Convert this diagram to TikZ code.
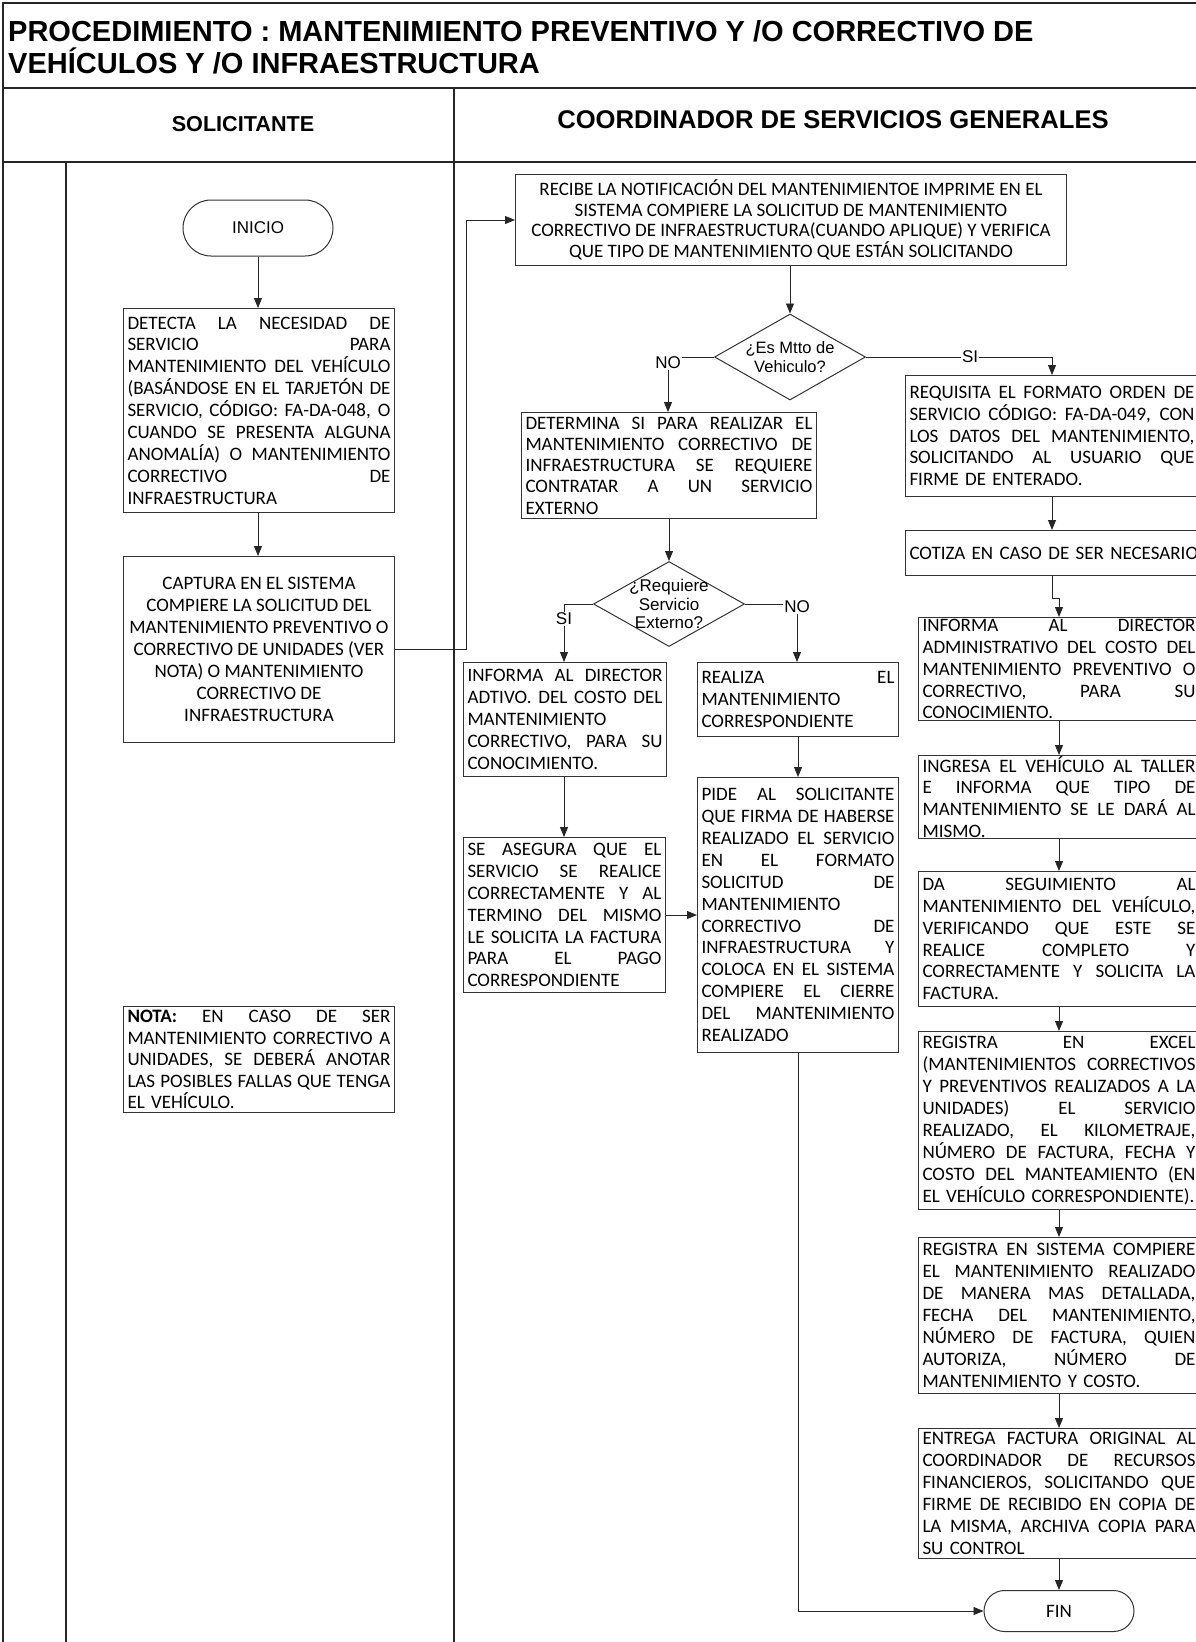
\documentclass[tikz,border=0pt]{standalone}
\usepackage{fontspec}
\setmainfont{Carlito}
\newfontfamily\arialf{Liberation Sans}
\usetikzlibrary{arrows.meta,calc,positioning,shapes.geometric}
% renglon justificado
\newcommand{\jl}[1]{{\spaceskip=0pt\xspaceskip=0pt\makebox[\hsize][s]{#1}}\\}
\tikzset{
	marco/.style={draw=black!85, line width=1.3pt},
	titulo/.style={anchor=north west, inner sep=0pt, align=left,
		font=\arialf\bfseries\fontsize{29}{32}\selectfont},
	carril/.style={inner sep=0pt, font=\arialf\bfseries\fontsize{24}{26}\selectfont},
	caja/.style={draw=black!80, line width=1pt, anchor=north west, inner xsep=4pt,
		inner ysep=0pt, align=left, font=\fontsize{19}{21.9}\selectfont},
	cajac/.style={caja, align=center},
	term/.style={draw=black!80, line width=1pt, minimum width=150pt},
	decision/.style={draw=black!80, line width=1pt, diamond, inner sep=0pt,
		minimum width=151pt, minimum height=86pt},
	dtexto/.style={inner sep=0pt, align=center, font=\arialf\fontsize{16.5}{18.5}\selectfont},
	etiq/.style={inner sep=1pt, font=\arialf\fontsize{17}{17}\selectfont},
	linea/.style={draw=black!85, line width=0.9pt},
	flecha/.style={linea, -{Triangle[length=10pt,width=8pt]}}
}
\begin{document}
\begin{tikzpicture}[x=1pt, y=-1pt]
	\useasboundingbox (0,0) rectangle (1196,1642);
	% marco y carriles
	\draw[marco] (1196,3) -- (3,3) -- (3,1642);
	\draw[marco] (3,88) -- (1196,88);
	\draw[marco] (3,162) -- (1196,162);
	\draw[marco] (454,88) -- (454,1642);
	\draw[marco] (66,162) -- (66,1642);
	\node[titulo] (titulo) at (8,20) {PROCEDIMIENTO : MANTENIMIENTO PREVENTIVO Y /O CORRECTIVO DE\\VEHÍCULOS Y /O INFRAESTRUCTURA};
	\node[carril, font=\arialf\bfseries\fontsize{21.6}{24}\selectfont] (solic) at (243,124) {SOLICITANTE};
	\node[carril, font=\arialf\bfseries\fontsize{25.6}{28}\selectfont] (coord) at (833,120) {COORDINADOR DE SERVICIOS GENERALES};

	% solicitante
	\node[term, minimum height=56pt, rounded corners=28pt, font=\arialf\fontsize{17}{17}\selectfont] (inicio) at (258,228) {INICIO};
	\node[caja, text width=263pt, minimum height=204pt] (detecta) at (123,308) {%
		\jl{DETECTA LA NECESIDAD DE}\jl{SERVICIO PARA}\jl{MANTENIMIENTO DEL VEHÍCULO}%
		\jl{(BASÁNDOSE EN EL TARJETÓN DE}\jl{SERVICIO, CÓDIGO: FA-DA-048, O}%
		\jl{CUANDO SE PRESENTA ALGUNA}\jl{ANOMALÍA) O MANTENIMIENTO}\jl{CORRECTIVO DE}INFRAESTRUCTURA};
	\node[cajac, minimum width=271pt, minimum height=186pt] (captura) at (123,556) {CAPTURA EN EL SISTEMA\\COMPIERE LA SOLICITUD DEL\\MANTENIMIENTO PREVENTIVO O\\CORRECTIVO DE UNIDADES (VER\\NOTA) O MANTENIMIENTO\\CORRECTIVO DE\\INFRAESTRUCTURA};
	\node[caja, text width=263pt, minimum height=106pt, font=\fontsize{19}{21.5}\selectfont] (nota) at (123,1006) {%
		\jl{\textbf{NOTA:} EN CASO DE SER}\jl{MANTENIMIENTO CORRECTIVO A}\jl{UNIDADES, SE DEBERÁ ANOTAR}%
		\jl{LAS POSIBLES FALLAS QUE TENGA}EL VEHÍCULO.};

	% coordinador
	\node[cajac, minimum width=551pt, minimum height=91pt, font=\fontsize{19}{20.5}\selectfont] (recibe) at (515,174) {RECIBE LA NOTIFICACIÓN DEL MANTENIMIENTOE IMPRIME EN EL\\SISTEMA COMPIERE LA SOLICITUD DE MANTENIMIENTO\\CORRECTIVO DE INFRAESTRUCTURA(CUANDO APLIQUE) Y VERIFICA\\QUE TIPO DE MANTENIMIENTO QUE ESTÁN SOLICITANDO};
	\node[decision] (dec1) at (790,357) {};
	\node[dtexto] (dec1t) at (dec1) {¿Es Mtto de\\Vehiculo?};
	\node[caja, text width=287pt, minimum height=106pt, font=\fontsize{19}{21.25}\selectfont] (determina) at (521,412) {%
		\jl{DETERMINA SI PARA REALIZAR EL}\jl{MANTENIMIENTO CORRECTIVO DE}\jl{INFRAESTRUCTURA SE REQUIERE}%
		\jl{CONTRATAR A UN SERVICIO}EXTERNO};
	\node[decision, minimum height=85pt] (dec2) at (669,604) {};
	\node[dtexto, font=\arialf\fontsize{17}{18.5}\selectfont] (dec2t) at (dec2) {¿Requiere\\Servicio\\Externo?};
	\node[caja, text width=195pt, minimum height=114pt] (infadtivo) at (463,662) {%
		\jl{INFORMA AL DIRECTOR}\jl{ADTIVO. DEL COSTO DEL}MANTENIMIENTO\\\jl{CORRECTIVO, PARA SU}CONOCIMIENTO.};
	\node[caja, text width=193pt, minimum height=74pt] (realiza) at (697,662) {%
		\jl{REALIZA EL}MANTENIMIENTO\\CORRESPONDIENTE};
	\node[caja, text width=194pt, minimum height=155pt] (asegura) at (463,837) {%
		\jl{SE ASEGURA QUE EL}\jl{SERVICIO SE REALICE}\jl{CORRECTAMENTE Y AL}\jl{TERMINO DEL MISMO}%
		\jl{LE SOLICITA LA FACTURA}\jl{PARA EL PAGO}CORRESPONDIENTE};
	\node[caja, text width=193pt, minimum height=275pt] (pide) at (697,777) {%
		\jl{PIDE AL SOLICITANTE}\jl{QUE FIRMA DE HABERSE}\jl{REALIZADO EL SERVICIO}\jl{EN EL FORMATO}%
		\jl{SOLICITUD DE}MANTENIMIENTO\\\jl{CORRECTIVO DE}\jl{INFRAESTRUCTURA Y}%
		\jl{COLOCA EN EL SISTEMA}\jl{COMPIERE EL CIERRE}\jl{DEL MANTENIMIENTO}REALIZADO};
	\node[caja, text width=285pt, minimum height=121pt] (requisita) at (905,375) {%
		\jl{REQUISITA EL FORMATO ORDEN DE}\jl{SERVICIO CÓDIGO: FA-DA-049, CON}%
		\jl{LOS DATOS DEL MANTENIMIENTO,}\jl{SOLICITANDO AL USUARIO QUE}FIRME DE ENTERADO.};
	\node[caja, text width=285pt, minimum height=45pt] (cotiza) at (905,530) {\mbox{COTIZA EN CASO DE SER NECESARIO}};
	\node[caja, text width=273pt, minimum height=103pt] (infadmin) at (918,617) {%
		\jl{INFORMA AL DIRECTOR}\jl{ADMINISTRATIVO DEL COSTO DEL}\jl{MANTENIMIENTO PREVENTIVO O}%
		\jl{CORRECTIVO, PARA SU}CONOCIMIENTO.};
	\node[caja, text width=273pt, minimum height=83pt] (ingresa) at (918,755) {%
		\jl{INGRESA EL VEHÍCULO AL TALLER}\jl{E INFORMA QUE TIPO DE}\jl{MANTENIMIENTO SE LE DARÁ AL}MISMO.};
	\node[caja, text width=273pt, minimum height=135pt] (seguimiento) at (918,871) {%
		\jl{DA SEGUIMIENTO AL}\jl{MANTENIMIENTO DEL VEHÍCULO,}\jl{VERIFICANDO QUE ESTE SE}%
		\jl{REALICE COMPLETO Y}\jl{CORRECTAMENTE Y SOLICITA LA}FACTURA.};
	\node[caja, text width=273pt, minimum height=178pt] (excel) at (918,1031) {%
		\jl{REGISTRA EN EXCEL}\jl{(MANTENIMIENTOS CORRECTIVOS}\jl{Y PREVENTIVOS REALIZADOS A LA}%
		\jl{UNIDADES) EL SERVICIO}\jl{REALIZADO, EL KILOMETRAJE,}\jl{NÚMERO DE FACTURA, FECHA Y}%
		\jl{COSTO DEL MANTEAMIENTO (EN}EL VEHÍCULO CORRESPONDIENTE).};
	\node[caja, text width=273pt, minimum height=156pt] (sistema) at (918,1237) {%
		\jl{REGISTRA EN SISTEMA COMPIERE}\jl{EL MANTENIMIENTO REALIZADO}\jl{DE MANERA MAS DETALLADA,}%
		\jl{FECHA DEL MANTENIMIENTO,}\jl{NÚMERO DE FACTURA, QUIEN}\jl{AUTORIZA, NÚMERO DE}%
		MANTENIMIENTO Y COSTO.};
	\node[caja, text width=273pt, minimum height=130pt] (entrega) at (918,1428) {%
		\jl{ENTREGA FACTURA ORIGINAL AL}\jl{COORDINADOR DE RECURSOS}\jl{FINANCIEROS, SOLICITANDO QUE}%
		\jl{FIRME DE RECIBIDO EN COPIA DE}\jl{LA MISMA, ARCHIVA COPIA PARA}SU CONTROL};
	\node[term, minimum height=41pt, rounded corners=20.5pt, font=\fontsize{19}{19}\selectfont] (fin) at (1059,1611) {FIN};

	% etiquetas de decision
	\node[etiq] (no1) at (668,363) {NO};
	\node[etiq] (si2) at (564,619) {SI};
	\node[etiq] (no2) at (797,607) {NO};

	% conectores
	\draw[flecha] (inicio.south) -- (inicio.south |- detecta.north);
	\draw[flecha] (detecta.south -| inicio) -- (inicio |- captura.north);
	\draw[flecha] (captura.east) -- ++(71,0) |- (recibe.west);
	\draw[flecha] (recibe.south -| dec1) -- (dec1.north);
	\draw[linea] (dec1.west) -- (dec1.west -| no1.east);
	\draw[flecha] (no1.south) -- (no1 |- determina.north);
	\draw[flecha] (dec1.east) -| node[etiq, fill=white, pos=0.28] (si1) {SI} (requisita.north);
	\draw[flecha] (determina.south -| dec2) -- (dec2.north);
	\draw[linea] (dec2.west) -| (si2.north);
	\draw[flecha] (si2.south) -- (si2 |- infadtivo.north);
	\draw[linea] (dec2.east) -- (dec2.east -| no2.west);
	\draw[flecha] (no2.south) -- (no2 |- realiza.north);
	\draw[flecha] (infadtivo.south -| si2) -- (si2 |- asegura.north);
	\draw[flecha] (asegura.east) -- (asegura.east -| pide.west);
	\draw[flecha] (realiza.south) -- (pide.north);
	\draw[flecha] (pide.south) |- (fin.west);
	\draw[flecha] (requisita.south) -- (cotiza.north);
	\draw[flecha] (cotiza.south) -- ++(0,22) -| (infadmin.north);
	\draw[flecha] (infadmin.south) -- (ingresa.north);
	\draw[flecha] (ingresa.south) -- (seguimiento.north);
	\draw[flecha] (seguimiento.south) -- (excel.north);
	\draw[flecha] (excel.south) -- (sistema.north);
	\draw[flecha] (sistema.south) -- (entrega.north);
	\draw[flecha] (entrega.south) -- (entrega.south |- fin.north);
\end{tikzpicture}
\end{document}
